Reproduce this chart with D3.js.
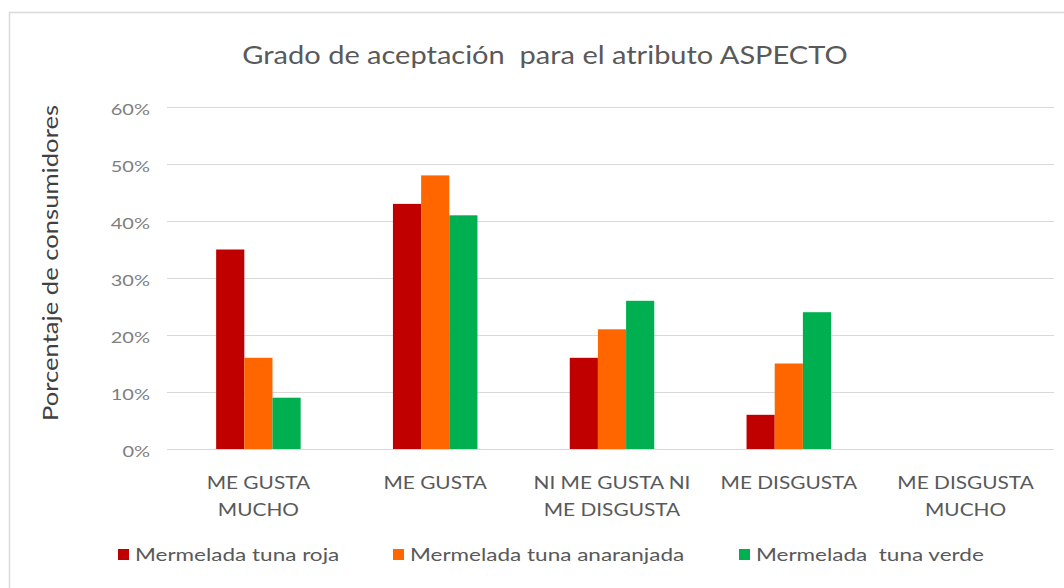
<!DOCTYPE html>
<html>
<head>
<meta charset="utf-8">
<script src="https://cdn.jsdelivr.net/npm/d3@7"></script>
<style>
  html, body { margin: 0; padding: 0; background: #ffffff; }
  svg { display: block; font-family: Lato, "Open Sans", sans-serif; }
  svg text { white-space: pre; }
</style>
</head>
<body>
<svg id="chart" width="1064" height="588"></svg>
<script>
// ---- data ----
const categories = [
  ["ME GUSTA", "MUCHO"],
  ["ME GUSTA"],
  ["NI ME GUSTA NI", "ME DISGUSTA"],
  ["ME DISGUSTA"],
  ["ME DISGUSTA", "MUCHO"]
];
const seriesNames = ["Mermelada tuna roja", "Mermelada tuna anaranjada", "Mermelada  tuna verde"];
const rojaValues = [0.35, 0.43, 0.16, 0.06, 0];
const anaranjadaValues = [0.16, 0.48, 0.21, 0.15, 0];
const verdeValues = [0.09, 0.41, 0.26, 0.24, 0];
const yTicks = [0, 0.1, 0.2, 0.3, 0.4, 0.5, 0.6];
const titleText = "Grado de aceptaci\u00f3n  para el atributo ASPECTO";
const yAxisTitle = "Porcentaje de consumidores";

const colors = ["#C00000", "#FF6600", "#00B050"];
const seriesValues = [rojaValues, anaranjadaValues, verdeValues];

const svg = d3.select("#chart");

// horizontal stretch of text (the reference text is wide)
function stretch(sel, k) {
  sel.each(function () {
    const w = this.getComputedTextLength();
    d3.select(this).attr("textLength", w * k).attr("lengthAdjust", "spacingAndGlyphs");
  });
}

// chart area border
svg.append("rect")
  .attr("x", 9.5).attr("y", 12.5)
  .attr("width", 1064).attr("height", 600)
  .attr("fill", "#ffffff")
  .attr("stroke", "#d9d9d9").attr("stroke-width", 1.5);

const plot = { left: 170, right: 1054, top: 107, bottom: 449 };

const catIdx = categories.map((c, i) => i);
const x0 = d3.scaleBand().domain(catIdx).range([plot.left, plot.right])
  .paddingInner(0.522).paddingOuter(0.261);
const x1 = d3.scaleBand().domain([0, 1, 2]).range([0, x0.bandwidth()]);
const y = d3.scaleLinear().domain([0, 0.6]).range([plot.bottom, plot.top]);

// gridlines
svg.append("g")
  .selectAll("line").data(yTicks).join("line")
  .attr("x1", plot.left - 3).attr("x2", plot.right)
  .attr("y1", d => Math.round(y(d)) + 0.5).attr("y2", d => Math.round(y(d)) + 0.5)
  .attr("stroke", "#d9d9d9").attr("stroke-width", 1);

// y tick labels
const yAxis = d3.axisLeft(y).tickValues(yTicks).tickFormat(d3.format(".0%")).tickSize(0).tickPadding(0);
const gy = svg.append("g").attr("transform", `translate(${plot.left - 20},2)`).call(yAxis);
gy.select(".domain").remove();
gy.selectAll("text")
  .attr("fill", "#7f7f7f")
  .style("font-size", "16px")
  .style("font-family", "Lato, sans-serif");
stretch(gy.selectAll("text"), 1.25);

// bars
const groups = svg.append("g").selectAll("g").data(catIdx).join("g")
  .attr("transform", d => `translate(${x0(d)},0)`);
groups.selectAll("rect")
  .data(ci => seriesValues.map((vals, si) => ({ si, v: vals[ci] })))
  .join("rect")
  .attr("x", d => x1(d.si))
  .attr("width", x1.bandwidth())
  .attr("y", d => y(d.v))
  .attr("height", d => y(0) - y(d.v))
  .attr("fill", d => colors[d.si]);

// category labels
const xAxisG = svg.append("g");
categories.forEach((lines, i) => {
  const cx = x0(i) + x0.bandwidth() / 2;
  lines.forEach((ln, k) => {
    xAxisG.append("text")
      .attr("x", cx).attr("y", 489 + k * 27)
      .attr("text-anchor", "middle")
      .attr("fill", "#595959")
      .style("font-size", "17.5px")
      .text(ln);
  });
});
stretch(xAxisG.selectAll("text"), 1.19);

// title
const title = svg.append("text")
  .attr("x", 545).attr("y", 64)
  .attr("text-anchor", "middle")
  .attr("fill", "#595959")
  .style("font-size", "25px")
  .text(titleText);
stretch(title, 1.16);

// y axis title
const yTitle = svg.append("text")
  .attr("transform", "translate(58,263) rotate(-90)")
  .attr("text-anchor", "middle")
  .attr("fill", "#404040")
  .style("font-size", "22px")
  .text(yAxisTitle);
stretch(yTitle, 1.165);

// legend
const legendX = [118, 393, 739];
const legend = svg.append("g");
seriesNames.forEach((name, i) => {
  legend.append("rect")
    .attr("x", legendX[i]).attr("y", 549)
    .attr("width", 11).attr("height", 11)
    .attr("fill", colors[i]);
  legend.append("text")
    .attr("x", legendX[i] + 17).attr("y", 561)
    .attr("fill", "#595959")
    .style("font-size", "18px")
    .text(name);
});
stretch(legend.selectAll("text"), 1.25);
</script>
</body>
</html>
